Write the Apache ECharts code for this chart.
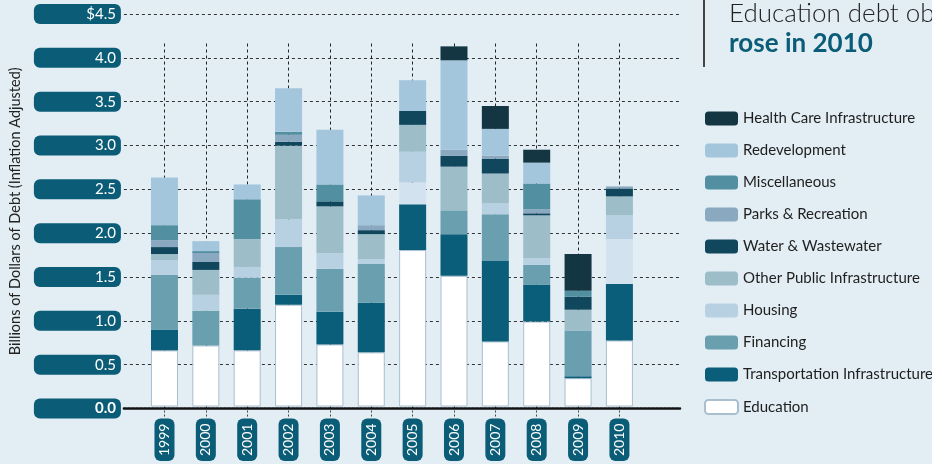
<!DOCTYPE html>
<html><head><meta charset="utf-8">
<script src="https://cdn.jsdelivr.net/npm/echarts@6/dist/echarts.min.js"></script>
<style>html,body{margin:0;padding:0;background:#e2edf4}#c{width:932px;height:464px}</style>
</head><body><div id="c"></div>
<script>
const years = ['1999','2000','2001','2002','2003','2004','2005','2006','2007','2008','2009','2010'];
const education      = [0.644,0.700,0.644,1.167,0.712,0.621,1.794,1.498,0.746,0.974,0.325,0.757];
const transportation = [0.239,0.000,0.478,0.114,0.376,0.569,0.524,0.478,0.923,0.421,0.022,0.649];
const financing      = [0.626,0.399,0.353,0.547,0.490,0.444,0.250,0.273,0.535,0.228,0.524,0.513];
const housing        = [0.171,0.182,0.125,0.319,0.182,0.057,0.353,0.000,0.125,0.080,0.000,0.273];
const otherPublic    = [0.068,0.285,0.320,0.843,0.535,0.285,0.308,0.501,0.342,0.489,0.239,0.217];
const water          = [0.080,0.091,0.000,0.045,0.057,0.046,0.159,0.126,0.171,0.023,0.149,0.091];
const parks          = [0.080,0.103,0.000,0.080,0.000,0.057,0.000,0.068,0.034,0.046,0.000,0.023];
const misc           = [0.171,0.022,0.455,0.034,0.194,0.000,0.000,0.000,0.000,0.296,0.068,0.000];
const redevelopment  = [0.546,0.114,0.171,0.501,0.626,0.341,0.353,1.025,0.307,0.239,0.000,0.000];
const healthCare     = [0.000,0.000,0.000,0.000,0.000,0.000,0.000,0.160,0.262,0.148,0.421,0.000];
const yTickLabels = ['0.0','0.5','1.0','1.5','2.0','2.5','3.0','3.5','4.0','$4.5'];
const lightFinancingYears = ['2005','2010'];

const FONT = 'Lato, "Open Sans", sans-serif';
const chart = echarts.init(document.getElementById('c'));

function mk(name, data, color, extra) {
  return Object.assign({
    name, type: 'bar', stack: 'total', xAxisIndex: 0, yAxisIndex: 0,
    barWidth: 27, data, itemStyle: { color }, emphasis: { disabled: true }
  }, extra || {});
}
const finData = financing.map((v, i) => lightFinancingYears.includes(years[i]) ? { value: v, itemStyle: { color: '#d2e3ef' } } : v);

const series = [
  mk('Education', education, '#ffffff', { itemStyle: { color: '#ffffff', borderColor: '#a9bfcf', borderWidth: 1 } }),
  mk('Transportation Infrastructure', transportation, '#0a5e79'),
  mk('Financing', finData, '#6a9faf'),
  mk('Housing', housing, '#b7d1e3'),
  mk('Other Public Infrastructure', otherPublic, '#9dbdc9'),
  mk('Water & Wastewater', water, '#10475c'),
  mk('Parks & Recreation', parks, '#8aa9c0'),
  mk('Miscellaneous', misc, '#518fa1'),
  mk('Redevelopment', redevelopment, '#a3c6dc'),
  mk('Health Care Infrastructure', healthCare, '#143642')
];

const option = {
  backgroundColor: '#e2edf4',
  animation: false,
  textStyle: { fontFamily: FONT },
  grid: [
    { left: 143.8, right: 291.9, top: 14, bottom: 55.5 },
    { left: 122, right: 252, top: 14, bottom: 55.5 }
  ],
  legend: {
    orient: 'vertical', left: 704, top: 111, padding: 0,
    itemWidth: 33, itemHeight: 14, itemGap: 17,
    selectedMode: false,
    textStyle: { fontSize: 15, color: '#1e1e1e', fontFamily: FONT },
    data: ['Health Care Infrastructure','Redevelopment','Miscellaneous','Parks & Recreation','Water & Wastewater','Other Public Infrastructure','Housing','Financing','Transportation Infrastructure','Education']
  },
  xAxis: [
    { type: 'category', gridIndex: 0, position: 'bottom', data: years,
      axisLine: { show: false },
      axisTick: { show: true, alignWithLabel: true, length: 11, lineStyle: { color: '#444', type: [2, 2], width: 1 } },
      axisLabel: { rotate: 90, color: '#fff', fontSize: 14, fontFamily: FONT, backgroundColor: '#0b5d77',
        borderRadius: 6, padding: [2, 5, 2, 5], lineHeight: 16, margin: 12 } },
    { type: 'category', gridIndex: 0, position: 'bottom', data: years,
      axisLine: { show: false }, axisLabel: { show: false },
      axisTick: { show: true, inside: true, alignWithLabel: true, length: 365.5, lineStyle: { color: '#222', type: [3, 3], width: 1 } } },
    { type: 'value', gridIndex: 1, min: 0, max: 1, z: 10,
      axisLine: { show: true, lineStyle: { color: '#111', type: [2.5, 1.5], width: 2.5 } },
      axisTick: { show: false }, axisLabel: { show: false }, splitLine: { show: false } }
  ],
  yAxis: [
    { type: 'value', gridIndex: 0, min: 0, max: 4.5, interval: 0.5, show: false, splitLine: { show: false } },
    { type: 'value', gridIndex: 1, min: 0, max: 4.5, interval: 0.5,
      name: 'Billions of Dollars of Debt (Inflation Adjusted)', nameLocation: 'middle', nameGap: 100,
      nameTextStyle: { fontSize: 14.5, color: '#222', fontFamily: FONT },
      axisLine: { show: false }, axisTick: { show: false },
      splitLine: { show: true, lineStyle: { color: '#333', type: [3, 3], width: 1 } },
      axisLabel: {
        margin: 3, color: '#fff', fontSize: 15, fontFamily: FONT, backgroundColor: '#0b5d77',
        borderRadius: 6, width: 77, align: 'right', padding: [2, 5, 2, 5], lineHeight: 16,
        formatter: v => { const s = yTickLabels[Math.round(v / 0.5)]; return v === 0 ? '{b|' + s + '}' : s; },
        rich: { b: { fontWeight: 'bold', color: '#fff', fontSize: 15, fontFamily: FONT } }
      } }
  ],
  graphic: [
    { type: 'line', shape: { x1: 704, y1: 0, x2: 704, y2: 67 }, style: { stroke: '#444', lineWidth: 2 } },
    { type: 'text', left: 729, top: 1, style: { text: 'Education debt obligations', fontSize: 26, fontFamily: FONT, fill: '#222', fontWeight: 300 } },
    { type: 'text', left: 729, top: 31, style: { text: 'rose in 2010', fontSize: 26, fontFamily: FONT, fill: '#0b5d77', fontWeight: 'bold' } }
  ],
  series
};
chart.setOption(option);
</script>
</body></html>
